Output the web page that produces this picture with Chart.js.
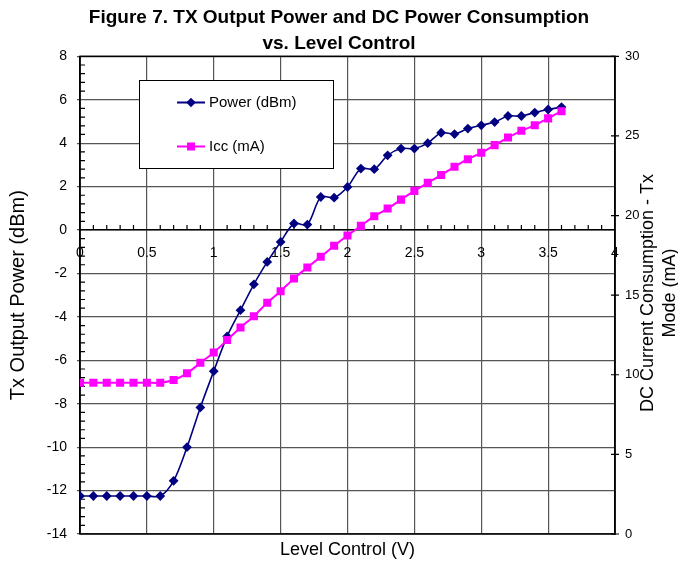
<!DOCTYPE html>
<html>
<head>
<meta charset="utf-8">
<script src="https://cdn.jsdelivr.net/npm/chart.js@4.4.1/dist/chart.umd.min.js"></script>
<style>
  html, body { margin: 0; padding: 0; background: #ffffff; }
  canvas { display: block; }
</style>
</head>
<body>
<canvas id="c" width="678" height="566"></canvas>
<script>
// ---- data ----
const levels = [0,0.1,0.2,0.3,0.4,0.5,0.6,0.7,0.8,0.9,1.0,1.1,1.2,1.3,1.4,1.5,1.6,1.7,1.8,1.9,2.0,2.1,2.2,2.3,2.4,2.5,2.6,2.7,2.8,2.9,3.0,3.1,3.2,3.3,3.4,3.5,3.6];
const powerDbm = [-12.25,-12.25,-12.25,-12.25,-12.25,-12.25,-12.25,-11.55,-10.0,-8.17,-6.5,-4.9,-3.69,-2.5,-1.47,-0.55,0.3,0.25,1.52,1.49,1.98,2.83,2.8,3.44,3.75,3.75,4.0,4.48,4.42,4.67,4.82,4.97,5.25,5.25,5.41,5.55,5.66];
const iccMa = [9.5,9.5,9.5,9.5,9.5,9.5,9.5,9.67,10.09,10.75,11.4,12.18,12.97,13.68,14.52,15.25,16.05,16.74,17.41,18.1,18.75,19.35,19.96,20.44,21.0,21.55,22.05,22.54,23.06,23.54,23.94,24.42,24.9,25.32,25.67,26.1,26.55];
const seriesLabels = ['Power (dBm)', 'Icc (mA)'];
const titleLines = ['Figure 7. TX Output Power and DC Power Consumption', 'vs. Level Control'];
const xTitle = 'Level Control (V)';
const yTitle = 'Tx Output Power (dBm)';
const y2TitleLines = ['DC Current Consumption - Tx', 'Mode (mA)'];

const FONT = '"Liberation Sans", Arial, Helvetica, sans-serif';
Chart.defaults.font.family = FONT;
Chart.defaults.color = '#000000';

const NAVY = '#000080';
const MAGENTA = '#FF00FF';

const decorPlugin = {
  id: 'decor',
  beforeDatasetsDraw(chart) {
    const ctx = chart.ctx;
    const a = chart.chartArea;
    const sx = chart.scales.x, sy = chart.scales.y, sy2 = chart.scales.y2;
    ctx.save();
    // frame
    ctx.strokeStyle = '#000000';
    ctx.lineWidth = 1.5;
    ctx.strokeRect(a.left, a.top, a.right - a.left, a.bottom - a.top);
    // minor ticks on x axis (at y = 0), pointing up
    const y0 = sy.getPixelForValue(0);
    ctx.lineWidth = 1.2;
    ctx.beginPath();
    for (let i = 1; i < 40; i++) {
      if (i % 5 === 0) continue;
      const px = sx.getPixelForValue(i / 10);
      ctx.moveTo(px, y0);
      ctx.lineTo(px, y0 - 5);
    }
    // minor ticks on left axis, pointing right
    for (let i = 0; i <= 55; i++) {
      const v = -14 + i * 0.4;
      if (i % 5 === 0) continue;
      const py = sy.getPixelForValue(v);
      ctx.moveTo(a.left, py);
      ctx.lineTo(a.left + 5, py);
    }
    // major ticks on right axis, crossing
    for (let v = 0; v <= 30; v += 5) {
      const py = sy2.getPixelForValue(v);
      ctx.moveTo(a.right - 4, py);
      ctx.lineTo(a.right + 4, py);
    }
    ctx.stroke();

    // legend box
    const lx = 139, ly = 80, lw = 194, lh = 88;
    ctx.fillStyle = '#ffffff';
    ctx.fillRect(lx, ly, lw, lh);
    ctx.strokeStyle = '#000000';
    ctx.lineWidth = 1;
    ctx.strokeRect(lx + 0.5, ly + 0.5, lw, lh);
    const rows = [102.5, 146.5];
    chart.data.datasets.slice().sort((p, q) => p.legendIndex - q.legendIndex).forEach((ds, k) => {
      const yy = rows[k];
      ctx.strokeStyle = ds.borderColor;
      ctx.lineWidth = 2;
      ctx.beginPath();
      ctx.moveTo(177, yy);
      ctx.lineTo(205, yy);
      ctx.stroke();
      ctx.fillStyle = ds.backgroundColor;
      if (ds.pointStyle === 'rectRot') {
        const r = 4.8;
        ctx.beginPath();
        ctx.moveTo(191, yy - r); ctx.lineTo(191 + r, yy); ctx.lineTo(191, yy + r); ctx.lineTo(191 - r, yy);
        ctx.closePath();
        ctx.fill();
      } else {
        ctx.fillRect(187, yy - 4, 8, 8);
      }
      ctx.fillStyle = '#000000';
      ctx.font = '15px ' + FONT;
      ctx.textAlign = 'left';
      ctx.textBaseline = 'middle';
      ctx.fillText(ds.label, 209, yy);
    });
    ctx.restore();
  },
  afterDraw(chart) {
    const ctx = chart.ctx;
    ctx.save();
    ctx.fillStyle = '#000000';
    ctx.font = '18px ' + FONT;
    ctx.textAlign = 'center';
    ctx.textBaseline = 'middle';
    const cy = 293;
    const xs = [648, 670];
    y2TitleLines.forEach((t, i) => {
      ctx.save();
      ctx.translate(xs[i], cy);
      ctx.rotate(-Math.PI / 2);
      ctx.fillText(t, 0, 0);
      ctx.restore();
    });
    ctx.restore();
  }
};

const GRID = '#555555';

new Chart(document.getElementById('c'), {
  type: 'line',
  data: {
    datasets: [
      {
        label: seriesLabels[1],
        legendIndex: 1,
        data: levels.map((x, i) => ({x: x, y: iccMa[i]})),
        xAxisID: 'x',
        yAxisID: 'y2',
        borderColor: MAGENTA,
        backgroundColor: MAGENTA,
        borderWidth: 2,
        pointStyle: 'rect',
        pointRadius: 5.7,
        pointBorderWidth: 0,
        pointHoverRadius: 5.7,
        tension: 0.3,
        order: 0
      },
      {
        label: seriesLabels[0],
        legendIndex: 0,
        data: levels.map((x, i) => ({x: x, y: powerDbm[i]})),
        xAxisID: 'x',
        yAxisID: 'y',
        borderColor: NAVY,
        backgroundColor: NAVY,
        borderWidth: 1.6,
        pointStyle: 'rectRot',
        pointRadius: 4.9,
        pointBorderWidth: 0,
        pointHoverRadius: 4.9,
        tension: 0.3,
        order: 1
      }
    ]
  },
  options: {
    responsive: false,
    animation: false,
    events: [],
    layout: { padding: 0 },
    plugins: {
      legend: { display: false },
      tooltip: { enabled: false },
      title: {
        display: true,
        text: titleLines,
        color: '#000000',
        font: { size: 19, weight: 'bold', family: FONT, lineHeight: 1.35 },
        padding: { top: 5, bottom: 0 }
      }
    },
    scales: {
      x: {
        type: 'linear',
        min: 0,
        max: 4,
        position: { y: 0 },
        ticks: { stepSize: 0.5, font: { size: 14 }, color: '#000000', padding: 15, callback: (v) => String(v) },
        grid: { color: GRID, lineWidth: 1.2, drawTicks: false },
        border: { display: true, color: '#000000', width: 1.5 }
      },
      xb: {
        type: 'linear',
        min: 0,
        max: 4,
        position: 'bottom',
        ticks: { display: false },
        grid: { display: false },
        border: { display: false },
        title: { display: true, text: xTitle, color: '#000000', font: { size: 18 }, padding: { top: 0, bottom: 5 } },
        afterFit(s) { s.height = 32; }
      },
      y: {
        type: 'linear',
        min: -14,
        max: 8,
        position: 'left',
        ticks: { stepSize: 2, font: { size: 14 }, color: '#000000', padding: 10 },
        grid: { color: GRID, lineWidth: 1.2, tickLength: 3, drawTicks: true },
        border: { display: true, color: '#000000', width: 1.5 },
        title: { display: true, text: yTitle, color: '#000000', font: { size: 20 }, padding: { top: 6, bottom: 0 } },
        afterFit(s) { s.width = 80; }
      },
      y2: {
        type: 'linear',
        min: 0,
        max: 30,
        position: 'right',
        ticks: { stepSize: 5, font: { size: 13 }, color: '#000000', padding: 10 },
        grid: { display: false, drawTicks: false },
        border: { display: true, color: '#000000', width: 1.5 },
        afterFit(s) { s.width = 63; }
      }
    }
  },
  plugins: [decorPlugin]
});
</script>
</body>
</html>
